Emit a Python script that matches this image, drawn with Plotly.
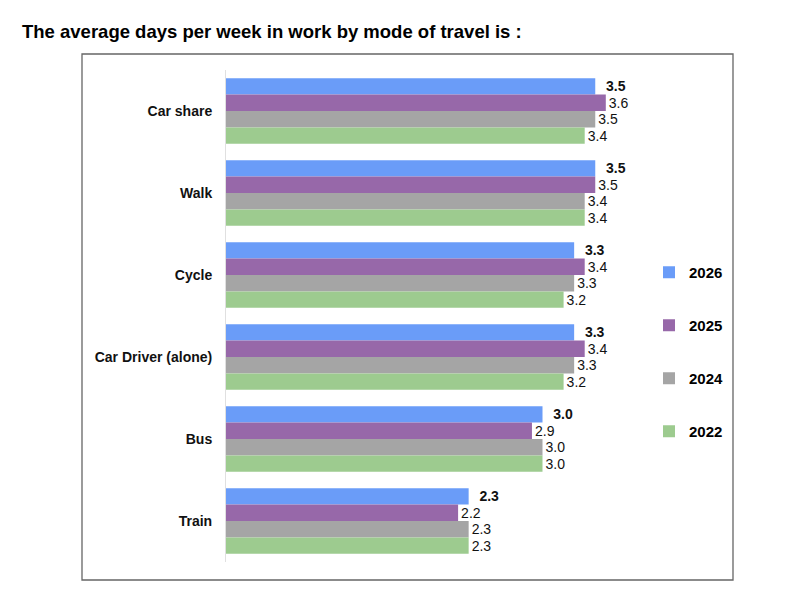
import plotly.graph_objects as go

categories = ["Car share", "Walk", "Cycle", "Car Driver (alone)", "Bus", "Train"]
years = ["2026", "2025", "2024", "2022"]
v2026 = [3.5, 3.5, 3.3, 3.3, 3.0, 2.3]
v2025 = [3.6, 3.5, 3.4, 3.4, 2.9, 2.2]
v2024 = [3.5, 3.4, 3.3, 3.3, 3.0, 2.3]
v2022 = [3.4, 3.4, 3.2, 3.2, 3.0, 2.3]
series = [v2026, v2025, v2024, v2022]
colors = ["#6a9cf8", "#9768a9", "#a5a5a5", "#9dcb8f"]

FONT = "Liberation Sans, Arial, sans-serif"
OFF = 8  # page body margin
W, H = 796 - 2 * OFF, 607 - 2 * OFF
L, R, T, B = 226 - OFF, 648 - OFF, 70 - OFF, 562 - OFF
pw, ph = R - L, B - T

def px(x):
    return (x - OFF - L) / pw

def py(y):
    return (B - (y - OFF)) / ph

fig = go.Figure()
for i, (yr, vals, col) in enumerate(zip(years, series, colors)):
    bold = i == 0
    fig.add_trace(go.Bar(
        name=f"<b>{yr}</b>", y=categories, x=vals, orientation="h",
        marker=dict(color=col, line=dict(width=0)),
        text=[f"&nbsp;&nbsp;<b>{v:.1f}</b>" if bold else f"{v:.1f}" for v in vals],
        textposition="outside", constraintext="none", cliponaxis=False,
        textfont=dict(family=FONT, size=14, color="#111"),
        legendgroup=yr,
        hoverinfo="skip",
    ))

fig.update_layout(
    width=W, height=H,
    margin=dict(l=L, r=W - R, t=T, b=H - B, pad=0),
    paper_bgcolor="white", plot_bgcolor="white",
    barmode="group", bargap=0.2, bargroupgap=0,
    font=dict(family=FONT, color="#111"),
    title=dict(text="<b>The average days per week in work by mode of travel is :</b>",
               x=(22 - OFF) / W, xanchor="left", y=1 - (32 - OFF) / H, yanchor="middle",
               font=dict(size=18.5, color="#000")),
    xaxis=dict(range=[0, 4], showticklabels=False, showgrid=False, zeroline=False,
               showline=False, ticks=""),
    yaxis=dict(autorange="reversed", showgrid=False, zeroline=False,
               showline=True, linecolor="#e0e0e0", linewidth=1, ticks="",
               ticklabelstandoff=10,
               tickfont=dict(size=14, color="#111", family=FONT),
               tickprefix="<b>", ticksuffix="</b>"),
    legend=dict(x=px(649), xanchor="left", y=py(256), yanchor="top",
                traceorder="grouped", tracegroupgap=30.5, itemwidth=30,
                font=dict(size=15, color="#000"), bgcolor="rgba(0,0,0,0)"),
    showlegend=True,
    shapes=[dict(type="rect", xref="paper", yref="paper",
                 x0=px(82), x1=px(733), y0=py(580), y1=py(54),
                 line=dict(color="#666", width=1.3), fillcolor="rgba(0,0,0,0)", layer="below")],
)

fig.write_html("out.html")
